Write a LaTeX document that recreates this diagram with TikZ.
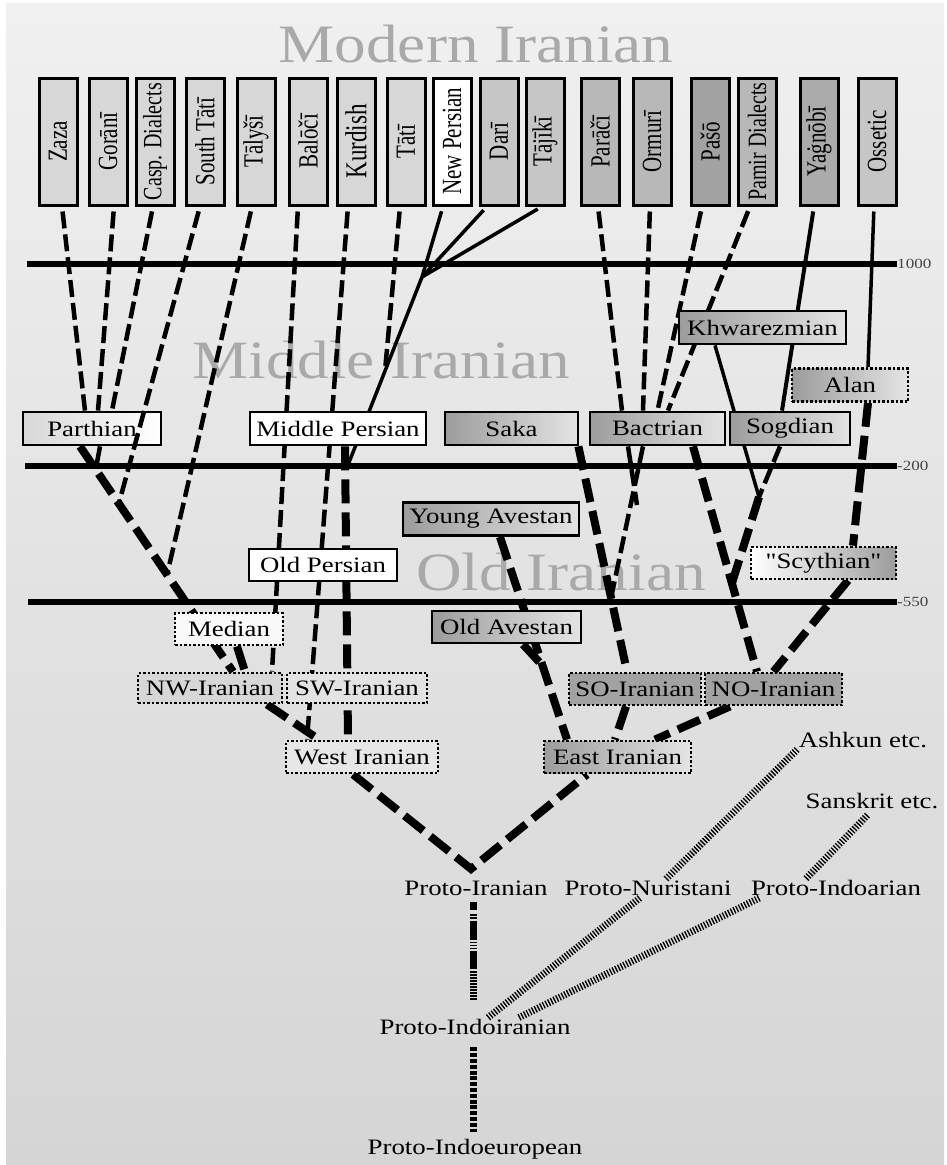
\documentclass[tikz,border=0pt]{standalone}
\usepackage{fontspec}
\setmainfont{Liberation Serif}
\newfontfamily\rawserif{Liberation Serif}[Ligatures=TeXOff]
\usepackage{graphicx}
\usepackage{tikz}
\usepackage{xcolor}
\definecolor{PaperTop}{HTML}{F0F0F0}
\definecolor{PaperBottom}{HTML}{D5D5D5}
\definecolor{TitleGray}{HTML}{A9A9A9}
\definecolor{EraText}{HTML}{444444}
\definecolor{BoxPale}{HTML}{D7D7D7}
\definecolor{BoxLight}{HTML}{C6C6C6}
\definecolor{BoxMid}{HTML}{B8B8B8}
\definecolor{BoxDark}{HTML}{A2A2A2}
\definecolor{ShadeDark}{HTML}{9C9C9C}
\definecolor{ShadeLight}{HTML}{E4E4E4}
\newcommand{\wtext}[2][1.22]{\scalebox{#1}[1]{#2}}
\newcommand{\vtext}[1]{\rotatebox{90}{\scalebox{1}[1.32]{#1}}}
\newcommand{\boxfont}{\fontsize{22}{26}\selectfont}
\newcommand{\topfont}{\fontsize{21}{24}\selectfont}
\newcommand{\titlefont}{\fontsize{54}{60}\selectfont}
\newcommand{\erafont}{\fontsize{14}{16}\selectfont}
\pgfdeclarelayer{paper}
\pgfdeclarelayer{links}
\pgfsetlayers{paper,links,main}
\tikzset{
  topbox/.style={draw, line width=3pt, minimum width=38pt, minimum height=127pt, inner sep=0pt, font=\topfont},
  labelbox/.style={draw, line width=2.8pt, minimum height=33pt, inner sep=0pt, font=\boxfont},
  dotbox/.style={labelbox, dash pattern=on 2.5pt off 2pt},
  greyshade/.style={left color=ShadeDark, right color=ShadeLight},
  paleshade/.style={left color=BoxPale, right color=white},
  plainlabel/.style={inner sep=1.5pt, font=\boxfont},
  eralabel/.style={anchor=west, inner sep=0pt, font=\erafont, text=EraText},
  era/.style={line width=6pt},
  titletext/.style={anchor=base, inner sep=0pt, font=\titlefont, text=TitleGray},
  link/.style={line width=4.5pt, dash pattern=on 17pt off 6pt},
  heavylink/.style={line width=8pt, dash pattern=on 24pt off 9pt},
  solidlink/.style={line width=3.5pt},
  hatchlink/.style={line width=7pt, dash pattern=on 1.3pt off 1.7pt},
  mixlink/.style={line width=7pt, dash pattern=on 8pt off 4pt on 1.5pt off 1.5pt on 1.5pt off 2pt on 19pt off 2pt on 1.5pt off 1.5pt on 1.5pt off 1.5pt on 1.5pt off 2pt on 18pt off 2pt on 1.5pt off 1.5pt on 1.5pt off 1.5pt on 1.5pt off 1.5pt on 1.5pt off 1.5pt on 1.5pt off 1.5pt on 1.5pt off 1.5pt on 1.5pt off 1.5pt on 1.5pt off 1.5pt on 1.5pt off 1.5pt on 1.5pt off 20pt},
  ticklink/.style={line width=7pt, dash pattern=on 4pt off 1.8pt},
  fromtop/.style={shorten <=5pt}
}

\begin{document}
\begin{tikzpicture}[x=1pt, y=-1pt]
  \useasboundingbox (0,0) rectangle (947,1165);

  % modern languages
  \node[topbox, fill=BoxPale] (zaza) at (58,141.5) {\vtext{Zaza}};
  \node[topbox, fill=BoxPale] (gorani) at (108,141.5) {\vtext{Gorānī}};
  \node[topbox, fill=BoxPale, font=\fontsize{20}{24}\selectfont] (casp) at (155,141.5) {\vtext{Casp. Dialects}};
  \node[topbox, fill=BoxPale] (stati) at (205,141.5) {\vtext{South Tātī}};
  \node[topbox, fill=BoxPale] (talysi) at (256,141.5) {\vtext{Tālyšī}};
  \node[topbox, fill=BoxPale] (baloci) at (308,141.5) {\vtext{Balōčī}};
  \node[topbox, fill=BoxPale, font=\fontsize{23}{26}\selectfont] (kurdish) at (356,141.5) {\vtext{Kurdish}};
  \node[topbox, fill=BoxPale] (tati) at (406,141.5) {\vtext{Tātī}};
  \node[topbox, fill=white] (newpers) at (452,141.5) {\vtext{New Persian}};
  \node[topbox, fill=BoxLight] (dari) at (499,141.5) {\vtext{Darī}};
  \node[topbox, fill=BoxLight] (tajiki) at (545,141.5) {\vtext{Tājīkī}};
  \node[topbox, fill=BoxMid] (paraci) at (600,141.5) {\vtext{Parāčī}};
  \node[topbox, fill=BoxMid] (ormuri) at (652,141.5) {\vtext{Ormurī}};
  \node[topbox, fill=BoxDark] (pasto) at (710,141.5) {\vtext{Pašō}};
  \node[topbox, fill=BoxMid, font=\fontsize{20}{24}\selectfont] (pamir) at (757,141.5) {\vtext{Pamir Dialects}};
  \node[topbox, fill=BoxDark!90!white] (yagnobi) at (819,141.5) {\vtext{Yaġnōbī}};
  \node[topbox, fill=BoxLight] (ossetic) at (877,141.5) {\vtext{Ossetic}};

  % middle languages
  \node[labelbox, paleshade, minimum width=138pt] (parthian) at (92,428.5) {\wtext{Parthian}};
  \node[labelbox, fill=white, minimum width=176pt] (midpers) at (338,428.5) {\wtext{Middle Persian}};
  \node[labelbox, greyshade, minimum width=133pt] (saka) at (511.5,428.5) {\wtext{Saka}};
  \node[labelbox, greyshade, minimum width=135pt] (bactrian) at (657.5,428.5) {\wtext{Bactrian}};
  \node[labelbox, greyshade, minimum width=120pt] (sogdian) at (790,428.5) {\wtext{Sogdian}};
  \node[labelbox, greyshade, minimum width=167pt] (khwar) at (762.5,327.5) {\wtext{Khwarezmian}};
  \node[dotbox, greyshade, minimum width=116pt] (alan) at (850,385) {\wtext{Alan}};

  % old languages
  \node[labelbox, greyshade, minimum width=176pt] (youngav) at (491,519) {\wtext{Young Avestan}};
  \node[labelbox, fill=white, minimum width=148pt, minimum height=32pt] (oldpers) at (323,565) {\wtext{Old Persian}};
  \node[dotbox, left color=white, right color=ShadeDark, minimum width=145pt, minimum height=32pt] (scyth) at (823.5,563) {\wtext{\rawserif"Scythian"}};
  \node[dotbox, fill=white!85!BoxPale, minimum width=108pt, minimum height=32pt] (median) at (229,629) {\wtext{Median}};
  \node[labelbox, greyshade, minimum width=149pt, minimum height=32pt] (oldav) at (506.5,627) {\wtext{Old Avestan}};
  \node[dotbox, fill=BoxPale, minimum width=144pt, minimum height=30pt] (nwir) at (210,688) {\wtext{NW-Iranian}};
  \node[dotbox, fill=BoxPale!70!white, minimum width=140pt, minimum height=30pt] (swir) at (357,688) {\wtext{SW-Iranian}};
  \node[dotbox, fill=BoxDark, minimum width=132pt, minimum height=32pt] (soir) at (635,689) {\wtext{SO-Iranian}};
  \node[dotbox, fill=BoxDark, minimum width=137pt, minimum height=32pt] (noir) at (773.5,689) {\wtext{NO-Iranian}};
  \node[dotbox, fill=BoxPale!60!white, minimum width=152pt, minimum height=32pt] (westir) at (362,757) {\wtext{West Iranian}};
  \node[dotbox, greyshade, minimum width=147pt, minimum height=32pt] (eastir) at (617.5,757) {\wtext{East Iranian}};

  % proto languages
  \node[plainlabel] (protoir) at (476,888) {\wtext{Proto-Iranian}};
  \node[plainlabel] (protonur) at (648,888) {\wtext{Proto-Nuristani}};
  \node[plainlabel] (protoia) at (836,888) {\wtext{Proto-Indoarian}};
  \node[plainlabel] (protoii) at (475,1027) {\wtext{Proto-Indoiranian}};
  \node[plainlabel] (protoie) at (475,1149) {\wtext{Proto-Indoeuropean}};
  \node[plainlabel] (ashkun) at (863,740) {\wtext{Ashkun etc.}};
  \node[plainlabel] (sanskrit) at (872,801) {\wtext{Sanskrit etc.}};

  % eras
  \node[eralabel] (e1000) at (897,264) {\wtext{1000}};
  \node[eralabel] (e200) at (897,466) {\wtext{-200}};
  \node[eralabel] (e550) at (897,602) {\wtext{-550}};

  % join points
  \coordinate (pjoin) at (119,503);
  \coordinate (pstub) at (96,468);
  \coordinate (tjoin) at (167,575);
  \coordinate (fork) at (422,277);
  \coordinate (tatijoin) at (385,371);
  \coordinate (sjoin) at (348,465);
  \coordinate (bstub) at (637,505);
  \coordinate (bjoin) at (611,598);
  \coordinate (vsog) at (759,497);
  \coordinate (mjoin) at (732,583);
  \coordinate (ajoin) at (542,665);
  \coordinate (apex) at ([xshift=-5pt,yshift=10pt]protoir.north);

  \begin{pgfonlayer}{paper}
    \fill[white] (0,0) rectangle (947,1165);
    \shade[top color=PaperTop, bottom color=PaperBottom] (6,3) rectangle (944,1165);
    \node[titletext] (tmodern) at (476,62) {\wtext[1.17]{Modern Iranian}};
    \node[titletext] (tmiddle) at (381,378) {\wtext[1.17]{Middle Iranian}};
    \node[titletext] (told) at (561,590) {\wtext[1.17]{Old Iranian}};
  \end{pgfonlayer}

  \begin{pgfonlayer}{links}
    \draw[era] (27,264) -- (e1000.west);
    \draw[era] (25,466) -- (e200.west);
    \draw[era] (28,602) -- (e550.west);

    % modern -> middle
    \draw[link, fromtop] ([xshift=4pt]zaza.south) -- ([xshift=-7pt]parthian.north);
    \draw[link, fromtop] ([xshift=6pt]gorani.south) -- ([xshift=6pt]parthian.north);
    \draw[link, fromtop] ([xshift=-2pt]casp.south) -- ([xshift=20pt]parthian.north);
    \draw[link, fromtop] ([xshift=-4pt]talysi.south) -- (tjoin);
    \draw[link, fromtop] ([xshift=-10pt]baloci.south) -- ([xshift=62pt]nwir.north);
    \draw[link, fromtop] ([xshift=-8pt]kurdish.south) -- ([xshift=-55pt]westir.north);
    \draw[link, fromtop] ([xshift=-6pt]tati.south) -- (tatijoin);
    \draw[solidlink, fromtop] ([xshift=-9pt]newpers.south) -- (fork);
    \draw[solidlink, fromtop] ([xshift=-12pt]dari.south) -- (fork);
    \draw[solidlink, fromtop] ([xshift=-3pt]tajiki.south) -- (fork);
    \draw[solidlink] (fork) -- (sjoin);
    \draw[link, fromtop] ([xshift=-2pt]paraci.south) -- ([xshift=-35.5pt]bactrian.north);
    \draw[link, fromtop] ([xshift=-2pt]ormuri.south) -- ([xshift=-14.5pt]bactrian.north);
    \draw[link, fromtop] ([xshift=-8pt]pasto.south) -- (bactrian.north);
    \draw[link, fromtop] ([xshift=-7pt]pamir.south) -- ([xshift=10.5pt]bactrian.north);
    \draw[solidlink, line width=4pt, fromtop] ([xshift=-5pt]yagnobi.south) -- ([xshift=-8pt]sogdian.north);
    \draw[solidlink, fromtop] ([xshift=-3pt]ossetic.south) -- ([xshift=18pt]alan.north);

    % middle -> old
    \draw[heavylink] ([xshift=-12pt]parthian.south) -- ([xshift=23pt]nwir.north);
    \draw[link] ([xshift=8pt]parthian.south) -- (pstub);
    \draw[heavylink] ([xshift=7pt]midpers.south) -- ([xshift=-14pt]westir.north);
    \draw[heavylink] ([xshift=-1pt]saka.south east) -- ([xshift=-8pt]soir.north);
    \draw[link] ([xshift=-29.5pt]bactrian.south) -- (bstub);
    \draw[link] ([xshift=-14.5pt]bactrian.south) -- (bjoin);
    \draw[heavylink] ([xshift=35.5pt]bactrian.south) -- ([xshift=-16.5pt]noir.north);
    \draw[solidlink] ([xshift=-47.5pt]khwar.south) -- (vsog);
    \draw[link] ([xshift=-10pt]sogdian.south) -- (vsog);
    \draw[heavylink] (vsog) -- (mjoin);
    \draw[heavylink] ([xshift=18pt]alan.south) -- ([xshift=29.5pt]scyth.north);
    \draw[heavylink] ([xshift=24.5pt]scyth.south) -- (noir.north);
    \draw[heavylink] ([xshift=9pt]youngav.south) -- ([xshift=-50.5pt]eastir.north);
    \draw[heavylink] ([xshift=16.5pt]oldav.south) -- (ajoin);

    % old -> proto
    \draw[heavylink] ([xshift=8pt]median.south) -- ([xshift=35pt]nwir.north);
    \draw[heavylink] ([xshift=57pt]nwir.south) -- ([xshift=-43pt]westir.north);
    \draw[heavylink] ([xshift=-9pt]soir.south) -- ([xshift=-2.5pt]eastir.north);
    \draw[heavylink] ([xshift=-43.5pt]noir.south) -- ([xshift=37.5pt]eastir.north);
    \draw[heavylink] ([xshift=-9pt]westir.south) -- (apex) -- ([xshift=-30.5pt]eastir.south);
    \draw[mixlink, shorten <=5pt, shorten >=8pt] ([xshift=-3pt]protoir.south) -- ([xshift=-2pt]protoii.north);
    \draw[ticklink, shorten <=11pt, shorten >=5pt] ([xshift=-2pt]protoii.south) -- ([xshift=-2pt]protoie.north);
    \draw[hatchlink] ([xshift=13pt]protoii.north) -- ([xshift=-7pt]protonur.south);
    \draw[hatchlink] ([xshift=44pt]protoii.north) -- ([xshift=11pt]protoia.south west);
    \draw[hatchlink] ([xshift=18pt]protonur.north) -- (ashkun.south west);
    \draw[hatchlink, shorten >=5pt] ([xshift=-30pt]protoia.north) -- (sanskrit.south);
  \end{pgfonlayer}

  \draw[link, fromtop] ([xshift=-5pt]stati.south) -- (pjoin);
\end{tikzpicture}
\end{document}
